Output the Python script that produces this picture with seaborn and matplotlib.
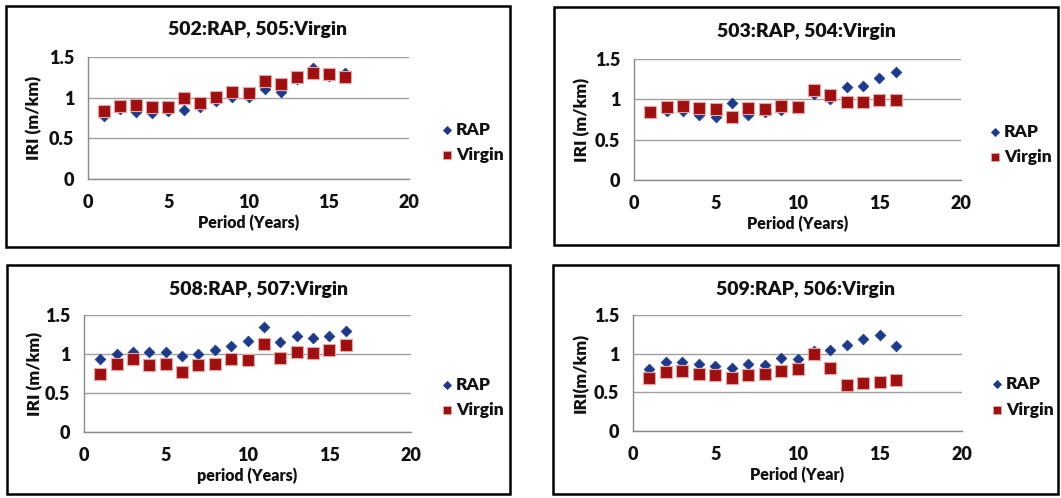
import matplotlib
matplotlib.use("Agg")
import matplotlib.pyplot as plt
import seaborn as sns
import pandas as pd
from matplotlib.patches import Rectangle
from matplotlib.lines import Line2D

# ---- data -------------------------------------------------------------
years = list(range(1, 17))

titles = ["502:RAP, 505:Virgin", "503:RAP, 504:Virgin",
          "508:RAP, 507:Virgin", "509:RAP, 506:Virgin"]
xlabels = ["Period (Years)", "Period (Years)", "period (Years)", "Period (Year)"]
ylabels = ["IRI (m/km)", "IRI (m/km)", "IRI (m/km)", "IRI(m/km)"]
x_ticks = [0, 5, 10, 15, 20]
y_ticks = [0, 0.5, 1, 1.5]
y_ticklabels = ["0", "0.5", "1", "1.5"]

rap_502 = [0.77, 0.86, 0.82, 0.81, 0.84, 0.85, 0.89, 0.96,
           1.01, 1.01, 1.11, 1.07, 1.23, 1.37, 1.27, 1.30]
virgin_505 = [0.83, 0.90, 0.91, 0.88, 0.88, 0.99, 0.93, 1.01,
              1.07, 1.06, 1.20, 1.17, 1.25, 1.30, 1.29, 1.26]

rap_503 = [0.83, 0.86, 0.86, 0.81, 0.78, 0.95, 0.81, 0.84,
           0.87, 0.89, 1.07, 1.01, 1.15, 1.17, 1.26, 1.34]
virgin_504 = [0.84, 0.91, 0.92, 0.89, 0.88, 0.78, 0.89, 0.88,
              0.92, 0.91, 1.12, 1.05, 0.97, 0.97, 0.99, 0.99]

rap_508 = [0.93, 1.00, 1.02, 1.02, 1.02, 0.98, 1.00, 1.05,
           1.10, 1.17, 1.34, 1.16, 1.23, 1.20, 1.23, 1.30]
virgin_507 = [0.75, 0.87, 0.93, 0.86, 0.87, 0.77, 0.86, 0.87,
              0.93, 0.92, 1.13, 0.95, 1.02, 1.01, 1.05, 1.12]

rap_509 = [0.80, 0.89, 0.89, 0.87, 0.84, 0.81, 0.87, 0.85,
           0.94, 0.93, 1.03, 1.05, 1.11, 1.19, 1.24, 1.10]
virgin_506 = [0.69, 0.76, 0.78, 0.74, 0.73, 0.69, 0.73, 0.74,
              0.78, 0.80, 0.99, 0.81, 0.59, 0.62, 0.64, 0.66]

series = [(rap_502, virgin_505), (rap_503, virgin_504),
          (rap_508, virgin_507), (rap_509, virgin_506)]

# ---- styling ----------------------------------------------------------
sns.set_theme(style="white")
plt.rcParams["font.family"] = ["Lato", "DejaVu Sans"]
WEIGHT = 800
plt.rcParams["font.weight"] = WEIGHT

W, H = 1061, 498
RAP_C = "#1c3a8c"
VIR_C = "#a00f0f"
VIR_EDGE = "#e8a3a3"
TXT = "#111111"

fig = plt.figure(figsize=(W / 100, H / 100), dpi=100)
fig.patch.set_facecolor("white")

# pixel layout: frame box, plot area, legend marker x, legend row y's
layout = [
    ((6, 6, 510, 247), (88, 57, 409, 179), 447, (130, 155)),
    ((554, 7, 1058, 245), (634, 59, 961, 180), 995, (132, 157)),
    ((7, 265, 510, 494), (84, 315, 411, 432), 447, (385, 410)),
    ((553, 265, 1058, 494), (633, 315, 962, 431), 997, (384, 410)),
]


def fx(x):
    return x / W


def fy(y):
    return 1 - y / H


for i, (box, plot, lx, (ly1, ly2)) in enumerate(layout):
    bx0, by0, bx1, by1 = box
    fig.patches.append(Rectangle((fx(bx0), fy(by1)), fx(bx1 - bx0), (by1 - by0) / H,
                                 transform=fig.transFigure, fill=False,
                                 edgecolor="black", linewidth=1.8, zorder=0))

    px0, py0, px1, py1 = plot
    pw, ph = px1 - px0, py1 - py0
    ax = fig.add_axes([fx(px0), fy(py1), fx(pw), ph / H])
    rap, vir = series[i]
    df = pd.DataFrame({"Period": years, "RAP": rap, "Virgin": vir})

    sns.scatterplot(data=df, x="Period", y="Virgin", ax=ax, marker="s", s=68,
                    color=VIR_C, edgecolor=VIR_EDGE, linewidth=0.8, zorder=3)
    sns.scatterplot(data=df, x="Period", y="RAP", ax=ax, marker="D", s=30,
                    color=RAP_C, edgecolor=RAP_C, linewidth=0.5, zorder=2)

    ax.set_xlim(0, 20)
    ax.set_ylim(0, 1.5)
    ax.set_xticks(x_ticks)
    ax.set_yticks(y_ticks)
    ax.set_yticklabels(y_ticklabels)
    ax.tick_params(axis="both", length=0, labelsize=13, colors=TXT)
    ax.tick_params(axis="y", pad=10)
    ax.tick_params(axis="x", pad=11)
    for lab in ax.get_xticklabels() + ax.get_yticklabels():
        lab.set_fontweight(WEIGHT)
    ax.grid(axis="y", color="#a0a0a0", linewidth=1.0)
    ax.set_axisbelow(True)
    for side in ("top", "right"):
        ax.spines[side].set_visible(False)
    for side in ("left", "bottom"):
        ax.spines[side].set_color("#8a8a8a")
        ax.spines[side].set_linewidth(1.0)

    # axis titles
    ax.set_xlabel(xlabels[i], fontsize=11.5, fontweight=WEIGHT, color=TXT,
                  va="center")
    ax.set_ylabel(ylabels[i], fontsize=12.5, fontweight=WEIGHT, color=TXT,
                  va="center")
    ax.xaxis.set_label_coords(0.5, -(44) / ph)
    ax.yaxis.set_label_coords((bx0 + 28 - px0) / pw, 0.5)

    fig.text(fx((bx0 + bx1) / 2), fy(by0 + 24), titles[i], ha="center", va="center",
             fontsize=14, fontweight=WEIGHT, color=TXT)

    # legend entries
    entries = [("RAP", "D", 3.6, RAP_C, RAP_C, ly1),
               ("Virgin", "s", 5.6, VIR_C, VIR_EDGE, ly2)]
    for lbl, mk, ms, fc, ec, yy in entries:
        fig.add_artist(Line2D([fx(lx)], [fy(yy)], transform=fig.transFigure,
                              linestyle="none", marker=mk, markersize=ms,
                              color=fc, markeredgecolor=ec, markeredgewidth=0.6))
        fig.text(fx(lx + 9), fy(yy), lbl, ha="left", va="center",
                 fontsize=12.5, fontweight=WEIGHT, color=TXT)

fig.savefig("out.png", dpi=100, facecolor="white")
